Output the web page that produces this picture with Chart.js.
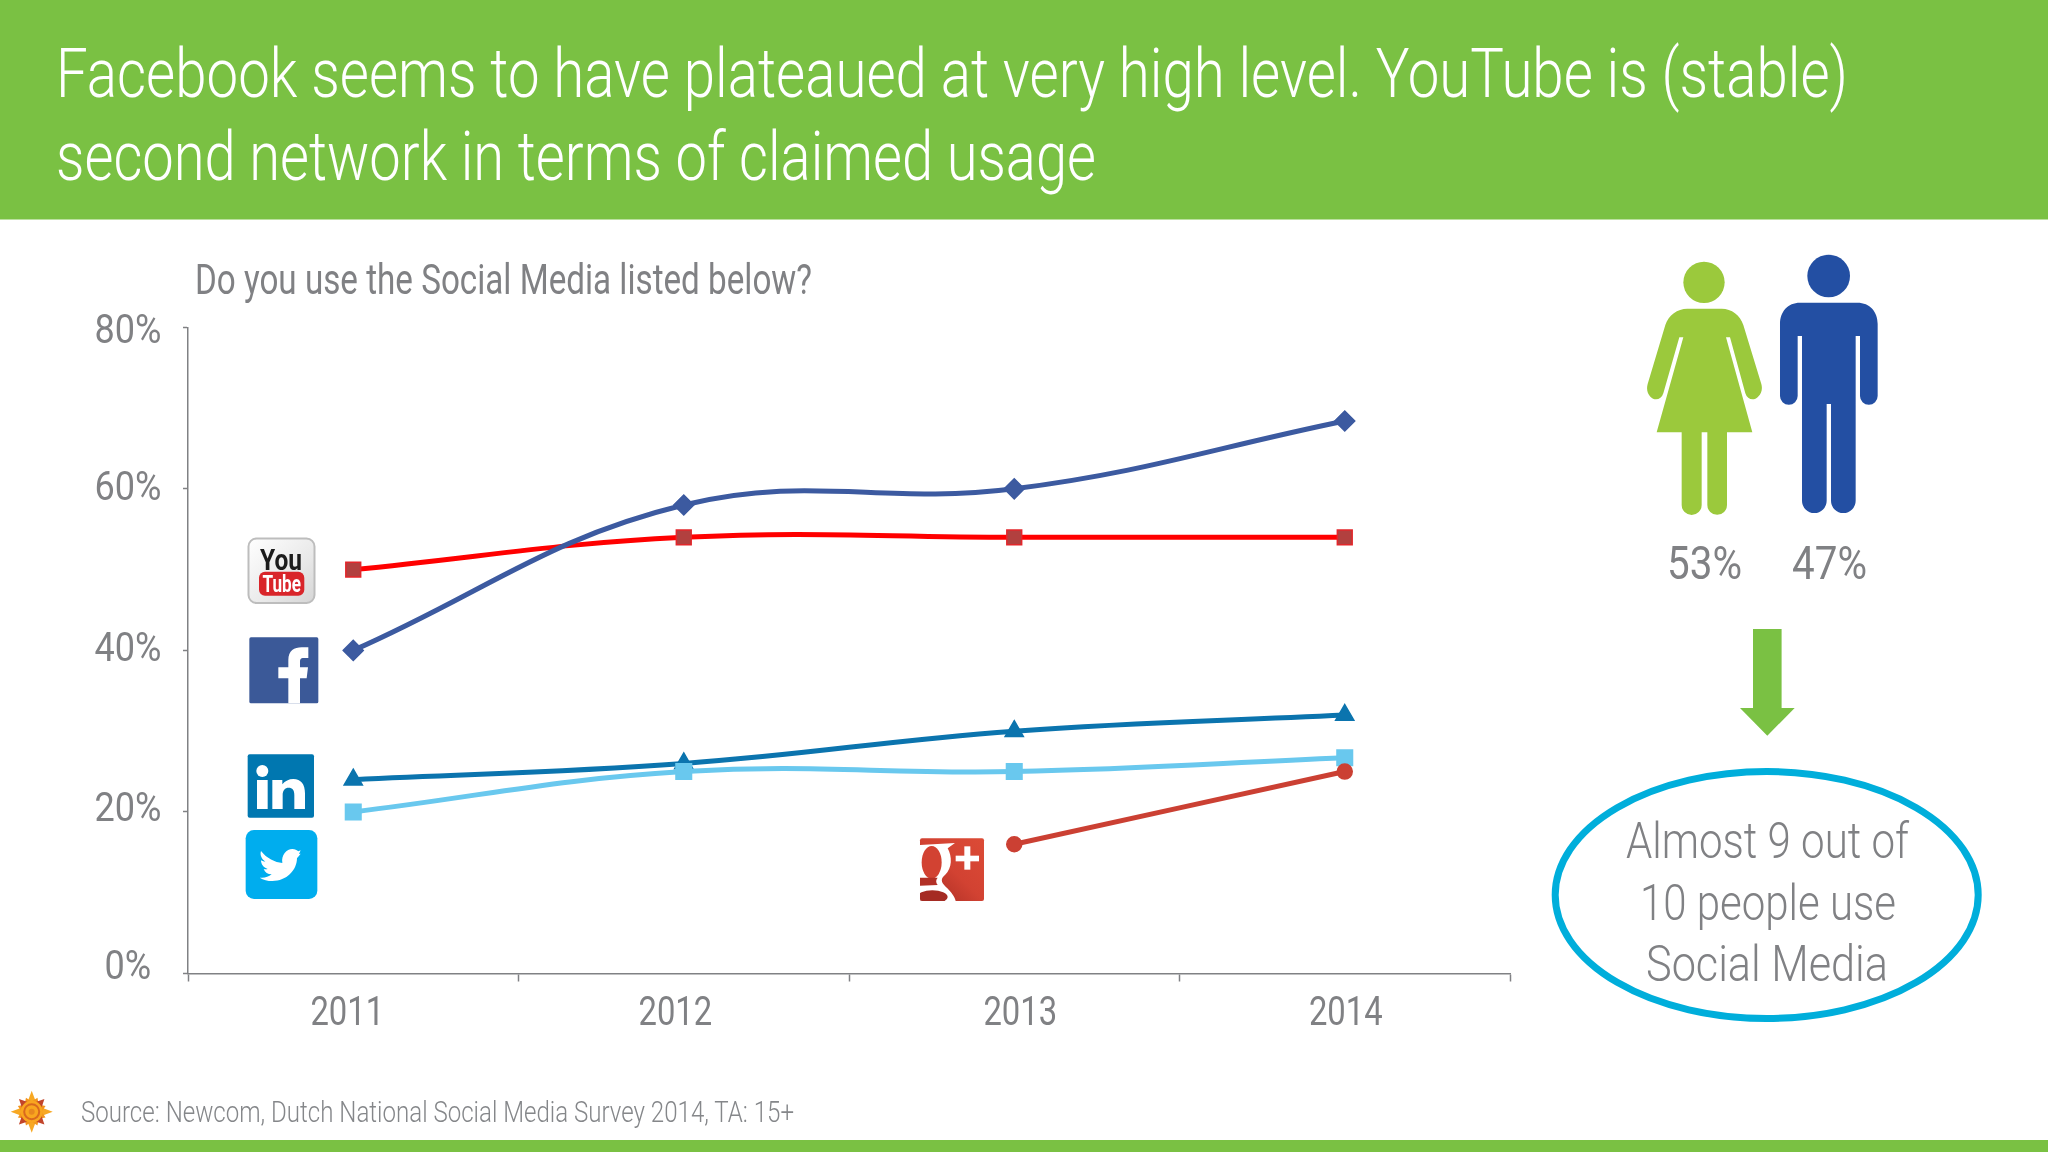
<!DOCTYPE html>
<html><head><meta charset="utf-8">
<style>
html,body{margin:0;padding:0;background:#fff;width:2048px;height:1152px;overflow:hidden}
#c{position:absolute;left:0;top:0}
svg{position:absolute;left:0;top:0;pointer-events:none}
.t{font-family:Roboto,sans-serif;font-weight:300;fill:#808184}
.n{font-family:Roboto,sans-serif;font-weight:400;fill:#808184}
</style>
<script src="https://cdn.jsdelivr.net/npm/chart.js@4/dist/chart.umd.min.js"></script>
</head><body>
<canvas id="c" width="2048" height="1152"></canvas>
<svg width="2048" height="1152" viewBox="0 0 2048 1152">
<defs>
<linearGradient id="yt" x1="0" y1="0" x2="1" y2="1"><stop offset="0" stop-color="#fff"/><stop offset=".6" stop-color="#e9e9e9"/><stop offset="1" stop-color="#d5d5d5"/></linearGradient>
<linearGradient id="gp" x1="1" y1="0" x2="0" y2="1"><stop offset="0" stop-color="#DC4B36"/><stop offset=".5" stop-color="#D24232"/><stop offset="1" stop-color="#A32A22"/></linearGradient>
<clipPath id="gc"><rect x="45" y="40" width="192" height="188" rx="6"/></clipPath>
</defs>
<rect x="0" y="0" width="2048" height="219.5" fill="#7ac143"/>
<rect x="0" y="1140" width="2048" height="12" fill="#7ac143"/>
<text x="56" y="96.5" font-size="68" class="t" style="fill:#fff" textLength="1792" lengthAdjust="spacingAndGlyphs">Facebook seems to have plateaued at very high level. YouTube is (stable)</text>
<text x="56" y="179.5" font-size="68" class="t" style="fill:#fff" textLength="1040" lengthAdjust="spacingAndGlyphs">second network in terms of claimed usage</text>
<text x="195" y="293.5" font-size="42" class="n" textLength="617" lengthAdjust="spacingAndGlyphs">Do you use the Social Media listed below?</text>
<text x="81" y="1121.5" font-size="30" class="t" style="fill:#85878a" textLength="713" lengthAdjust="spacingAndGlyphs">Source: Newcom, Dutch National Social Media Survey 2014, TA: 15+</text>
<text x="1667" y="579" font-size="46" class="n" textLength="75" lengthAdjust="spacingAndGlyphs">53%</text>
<text x="1792" y="579" font-size="46" class="n" textLength="75" lengthAdjust="spacingAndGlyphs">47%</text>

<g transform="translate(1600,230) scale(.33333)">
<circle cx="312" cy="157" r="62" fill="#9BC93C"/>
<path fill="#9BC93C" d="M262,236 L365,236 C395,236 420,255 430,285 L484,462 C492,490 470,508 458,508 C448,508 440,502 436,490 L390,322 L378,322 L457,607 L381,607 L381,825 A29.5,29.5 0 0 1 322,825 L322,607 L305,607 L305,825 A30,30 0 0 1 245,825 L245,607 L170,607 L250,322 L238,322 L190,490 C186,502 178,508 168,508 C155,508 135,490 143,462 L196,285 C206,255 232,236 262,236 Z"/>
<circle cx="686" cy="138" r="64" fill="#234FA3"/>
<path fill="#234FA3" d="M600,218 L772,218 C810,218 833,245 833,282 L833,498 A26.5,26.5 0 0 1 780,498 L780,318 L767,318 L767,812 A37,37 0 0 1 693,812 L693,522 L680,522 L680,812 A37,37 0 0 1 606,812 L606,318 L593,318 L593,498 A26.5,26.5 0 0 1 540,498 L540,282 C540,245 563,218 600,218 Z"/>
</g>

<polygon fill="#7ac143" points="1753,629 1781.6,629 1781.6,708 1794.7,708 1767.3,735.7 1740,708 1753,708"/>
<ellipse cx="1766.7" cy="895" rx="211.5" ry="123.5" fill="none" stroke="#00AEDB" stroke-width="7"/>
<text x="1626" y="858" font-size="50" class="t" textLength="283" lengthAdjust="spacingAndGlyphs">Almost 9 out of</text>
<text x="1640" y="920" font-size="50" class="t" textLength="256" lengthAdjust="spacingAndGlyphs">10 people use</text>
<text x="1646" y="981" font-size="50" class="t" textLength="242" lengthAdjust="spacingAndGlyphs">Social Media</text>

<!-- YouTube -->
<rect x="248.5" y="538.5" width="66" height="64.5" rx="8" fill="url(#yt)" stroke="#bdbdbd" stroke-width="2"/>
<text x="260" y="569.5" font-size="30" font-weight="700" font-family="Roboto" fill="#1c1c1c" textLength="42" lengthAdjust="spacingAndGlyphs">You</text>
<rect x="259" y="571.7" width="45.3" height="24" rx="6" fill="#D9252A"/>
<text x="262.5" y="591.7" font-size="24" font-weight="700" font-family="Roboto" fill="#fff" textLength="38.5" lengthAdjust="spacingAndGlyphs">Tube</text>
<!-- Facebook -->
<g transform="translate(235,530) scale(.33333)">
<rect x="43" y="322" width="207" height="198" rx="5" fill="#3B5998"/>
<path fill="#fff" d="M160,520 L160,445 L130,445 L130,412 L160,412 L160,390 C160,362 178,352 200,352 L220,352 L220,384 L206,384 C197,384 195,388 195,396 L195,412 L219,412 L215,445 L195,445 L195,520 Z"/>
</g>
<!-- LinkedIn / Twitter -->
<g transform="translate(235,745) scale(.33333)">
<rect x="38" y="28" width="199" height="190" rx="6" fill="#0077B0"/>
<circle cx="82" cy="78" r="18" fill="#fff"/>
<rect x="66" y="105" width="32" height="87" fill="#fff"/>
<path fill="#fff" d="M112,105 L142,105 L142,118 C150,108 162,102 175,102 C198,102 210,118 210,145 L210,192 L178,192 L178,150 C178,135 172,128 161,128 C150,128 143,136 143,150 L143,192 L112,192 Z"/>
<rect x="32" y="255" width="215" height="207" rx="25" fill="#00ADEE"/>
<path fill="#fff" d="M78,318 C95,340 120,352 142,354 C138,330 155,312 172,312 C180,312 186,316 190,319 L197,316 L192,327 L197,326 C192,333 188,337 186,339 C186,375 155,408 112,408 C98,408 85,405 74,398 C88,400 100,396 110,388 C98,388 90,382 86,372 C90,373 95,373 98,372 C86,368 78,358 78,346 C82,348 87,350 91,350 C80,342 74,330 78,318 Z"/>
</g>
<!-- Google+ -->
<g transform="translate(905,825) scale(.33333)">
<rect x="45" y="40" width="192" height="188" rx="6" fill="url(#gp)"/>
<g clip-path="url(#gc)">
<path fill="#fff" d="M45,60 L150,54 L128,70 C142,95 142,130 120,150 C108,160 106,170 122,185 C138,200 150,215 152,228 L45,228 Z"/>
<ellipse cx="80" cy="112" rx="30" ry="49" fill="#D24232"/>
<path fill="#B23026" d="M45,158 L98,158 C92,165 92,172 98,180 L45,182 Z"/>
<ellipse cx="82" cy="216" rx="46" ry="20" fill="#A52B23"/>
</g>
<rect x="152" y="92" width="70" height="17" fill="#fff"/>
<rect x="178" y="64" width="18" height="70" fill="#fff"/>
</g>
<!-- Logo -->
<g transform="translate(31.7,1111.7)">
<g fill="#F7A823"><polygon points="-4.5,-9 0,-21 4.5,-9"/><polygon points="-4.5,-9 0,-21 4.5,-9" transform="rotate(90)"/><polygon points="-4.5,-9 0,-21 4.5,-9" transform="rotate(180)"/><polygon points="-4.5,-9 0,-21 4.5,-9" transform="rotate(270)"/></g>
<g fill="#F2941E"><polygon points="-4,-9 0,-15 4,-9" transform="rotate(22.5)"/><polygon points="-4,-9 0,-15 4,-9" transform="rotate(67.5)"/><polygon points="-4,-9 0,-15 4,-9" transform="rotate(112.5)"/><polygon points="-4,-9 0,-15 4,-9" transform="rotate(157.5)"/><polygon points="-4,-9 0,-15 4,-9" transform="rotate(202.5)"/><polygon points="-4,-9 0,-15 4,-9" transform="rotate(247.5)"/><polygon points="-4,-9 0,-15 4,-9" transform="rotate(292.5)"/><polygon points="-4,-9 0,-15 4,-9" transform="rotate(337.5)"/></g>
<g fill="#C2452A"><polygon points="-4.5,-9 0,-18 4.5,-9" transform="rotate(45)"/><polygon points="-4.5,-9 0,-18 4.5,-9" transform="rotate(135)"/><polygon points="-4.5,-9 0,-18 4.5,-9" transform="rotate(225)"/><polygon points="-4.5,-9 0,-18 4.5,-9" transform="rotate(315)"/></g>
<circle r="11" fill="#F9A61F"/>
<circle r="7.5" fill="none" stroke="#D9691E" stroke-width="2"/>
<circle r="3" fill="#E8881F"/>
</g>
</svg>
<script>
const years = ['2011','2012','2013','2014'];
const facebook = [40, 58, 60, 68.4];
const youtube = [50, 54, 54, 54];
const linkedin = [24, 26, 30, 32];
const twitter = [20, 25, 25, 26.7];
const googlePlus = [null, null, 16, 25];
const yTickValues = [0, 20, 40, 60, 80];

const xLabelShift = [-6, -8.4, 6, 1];
const yLabelShift = [-4.5, -1, 0.5, 0.5, 5];

const nudgeLabels = {
  id: 'nudgeLabels',
  beforeDraw(chart) {
    const apply = (scale, shift, axis) => {
      const items = scale.getLabelItems();
      if (items._done) return;
      items.forEach((it, i) => { it.options.translation[axis] += shift[i] || 0; });
      items._done = true;
    };
    apply(chart.scales.x, xLabelShift, 0);
    apply(chart.scales.y, yLabelShift, 1);
  }
};

// The reference's axis labels are set in a condensed face: squeeze them horizontally.
const canvas = document.getElementById('c');
const ctx2d = canvas.getContext('2d');
const rawFillText = ctx2d.fillText.bind(ctx2d);
ctx2d.fillText = function (text, x, y, maxWidth) {
  const sx = String(text).includes('%') ? 0.88 : 0.8;
  ctx2d.save();
  ctx2d.translate(x, y);
  ctx2d.scale(sx, 1);
  rawFillText(text, 0, 0);
  ctx2d.restore();
};

const axisFont = { family: 'Roboto, sans-serif', size: 41 };
const grey = '#808184';

function series(label, data, color, style, radius, fill, border) {
  return { label, data, borderColor: color, backgroundColor: color, borderWidth: 5,
    pointStyle: style, pointRadius: radius, pointBackgroundColor: fill || color,
    pointBorderColor: border || fill || color, pointBorderWidth: 1.5,
    tension: 0.4, cubicInterpolationMode: 'default', spanGaps: false, fill: false };
}

new Chart(canvas, {
  type: 'line',
  data: { labels: years, datasets: [
    series('Google+', googlePlus, '#CB4033', 'circle', 7.5),
    series('Twitter', twitter, '#69C8EE', 'rect', 11),
    series('LinkedIn', linkedin, '#0B74AE', 'triangle', 10.5),
    series('Facebook', facebook, '#3C5AA0', 'rectRot', 10),
    series('YouTube', youtube, '#FF0000', 'rect', 10.5, '#B2403F', '#E3262B')
  ]},
  plugins: [nudgeLabels],
  options: {
    responsive: false, animation: false,
    layout: { padding: { left: 0, right: 538, top: 327.3, bottom: 0 } },
    plugins: { legend: { display: false }, title: { display: false }, tooltip: { enabled: false } },
    scales: {
      x: { offset: true,
        afterFit(s) { s.height = 178.5; },
        grid: { offset: true, drawOnChartArea: false, color: grey, tickLength: 8, tickWidth: 1.5 },
        border: { color: grey, width: 1.5 },
        ticks: { font: axisFont, color: grey, padding: 9, maxRotation: 0, autoSkip: false } },
      y: { min: 0, max: 80,
        afterFit(s) { s.width = 188; },
        afterBuildTicks(s) { s.ticks = yTickValues.map(v => ({ value: v })); },
        grid: { drawOnChartArea: false, color: grey, tickLength: 5, tickWidth: 1.5 },
        border: { color: grey, width: 1.5 },
        ticks: { font: axisFont, color: grey, padding: 17, crossAlign: 'center', callback: v => v + '%' } }
    }
  }
});
</script>
</body></html>
